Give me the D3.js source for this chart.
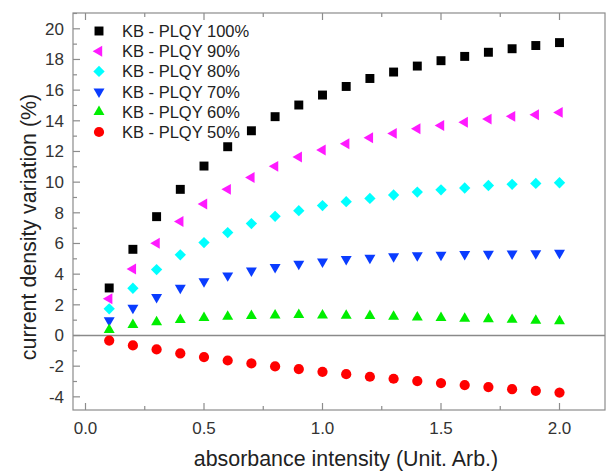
<!DOCTYPE html>
<html>
<head>
<meta charset="utf-8">
<script src="https://cdn.jsdelivr.net/npm/d3@7"></script>
<style>
  html, body { margin: 0; padding: 0; background: #fff; overflow: hidden; }
  svg { display: block; font-family: "Liberation Sans", Arial, sans-serif; }
</style>
</head>
<body>
<div id="chart"></div>
<script>
// absorbance intensity values (x)
var xValues = [0.1, 0.2, 0.3, 0.4, 0.5, 0.6, 0.7, 0.8, 0.9, 1.0,
               1.1, 1.2, 1.3, 1.4, 1.5, 1.6, 1.7, 1.8, 1.9, 2.0];

var plqy100 = [3.1, 5.62, 7.75, 9.53, 11.05, 12.31, 13.35, 14.27, 15.03, 15.68,
               16.24, 16.76, 17.18, 17.57, 17.92, 18.2, 18.47, 18.7, 18.91, 19.1];
var plqy90  = [2.39, 4.34, 6.01, 7.43, 8.58, 9.53, 10.31, 11.03, 11.64, 12.1,
               12.5, 12.9, 13.18, 13.48, 13.7, 13.91, 14.11, 14.29, 14.4, 14.55];
var plqy80  = [1.74, 3.08, 4.3, 5.26, 6.06, 6.71, 7.3, 7.77, 8.14, 8.47,
               8.73, 8.94, 9.16, 9.35, 9.5, 9.62, 9.78, 9.86, 9.92, 9.96];
var plqy70  = [0.98, 1.8, 2.5, 3.1, 3.52, 3.91, 4.23, 4.45, 4.67, 4.82,
               4.97, 5.06, 5.15, 5.22, 5.26, 5.3, 5.32, 5.34, 5.36, 5.38];
var plqy60  = [0.37, 0.7, 0.87, 1.02, 1.15, 1.24, 1.28, 1.32, 1.35, 1.32,
               1.3, 1.28, 1.24, 1.18, 1.15, 1.11, 1.07, 1.03, 0.98, 0.94];
var plqy50  = [-0.33, -0.65, -0.91, -1.17, -1.41, -1.63, -1.82, -2.02, -2.19, -2.37,
               -2.52, -2.69, -2.82, -2.97, -3.1, -3.23, -3.36, -3.5, -3.61, -3.72];

var seriesNames = ['KB - PLQY 100%', 'KB - PLQY 90%', 'KB - PLQY 80%',
                   'KB - PLQY 70%', 'KB - PLQY 60%', 'KB - PLQY 50%'];

var xTickValues = [0, 0.5, 1.0, 1.5, 2.0];
var yTickValues = [-4, -2, 0, 2, 4, 6, 8, 10, 12, 14, 16, 18, 20];

var width = 608, height = 472;
var frame = { left: 73, right: 605, top: 13, bottom: 410 };

var svg = d3.select('#chart').append('svg')
  .attr('width', width)
  .attr('height', height);

var x = d3.scaleLinear().domain([0, 2]).range([85.5, 559.5]);
var y = d3.scaleLinear().domain([0, 20]).range([335.5, 28.8]);

var xMin = x.invert(frame.left), xMax = x.invert(frame.right);
var yMin = y.invert(frame.bottom), yMax = y.invert(frame.top);

var axisColor = '#8c8c8c';

// minor/major ticks, pointing inward
var xMinor = d3.range(0, xMax, 0.25);
var yMinor = d3.range(Math.ceil(yMin), yMax, 1);

var axes = svg.append('g').attr('stroke', axisColor).attr('stroke-width', 1.2);

// bottom + top x ticks
xMinor.forEach(function(v) {
  var major = Math.abs(v * 2 - Math.round(v * 2)) < 1e-6;
  var len = major ? 7 : 4;
  axes.append('line')
    .attr('x1', x(v)).attr('x2', x(v))
    .attr('y1', frame.bottom).attr('y2', frame.bottom - len);
  axes.append('line')
    .attr('x1', x(v)).attr('x2', x(v))
    .attr('y1', frame.top).attr('y2', frame.top + len);
});

// left y ticks
yMinor.forEach(function(v) {
  var major = v % 2 === 0;
  var len = major ? 7 : 4;
  axes.append('line')
    .attr('x1', frame.left).attr('x2', frame.left + len)
    .attr('y1', y(v)).attr('y2', y(v));
});

// frame
axes.append('rect')
  .attr('x', frame.left).attr('y', frame.top)
  .attr('width', frame.right - frame.left)
  .attr('height', frame.bottom - frame.top)
  .attr('fill', 'none');

// zero line
svg.append('line')
  .attr('x1', frame.left).attr('x2', frame.right)
  .attr('y1', y(0)).attr('y2', y(0))
  .attr('stroke', '#8a8a8a').attr('stroke-width', 1.3);

// tick labels
svg.append('g').selectAll('text')
  .data(xTickValues).enter()
  .append('text')
  .attr('x', function(d) { return x(d); })
  .attr('y', 434)
  .attr('text-anchor', 'middle')
  .attr('font-size', '17px')
  .attr('fill', '#333')
  .text(d3.format('.1f'));

svg.append('g').selectAll('text')
  .data(yTickValues).enter()
  .append('text')
  .attr('x', frame.left - 9)
  .attr('y', function(d) { return y(d); })
  .attr('dy', '0.35em')
  .attr('text-anchor', 'end')
  .attr('font-size', '17px')
  .attr('fill', '#333')
  .text(function(d) { return d; });

// axis titles
svg.append('text')
  .attr('x', 346)
  .attr('y', 466)
  .attr('text-anchor', 'middle')
  .attr('font-size', '21.4px')
  .attr('fill', '#222')
  .text('absorbance intensity (Unit. Arb.)');

svg.append('text')
  .attr('transform', 'translate(28,227) rotate(-90)')
  .attr('dy', '0.35em')
  .attr('text-anchor', 'middle')
  .attr('font-size', '21.4px')
  .attr('fill', '#222')
  .text('current density variation (%)');

// series styles
var series = [
  { name: seriesNames[0], values: plqy100, color: '#000000', type: d3.symbolSquare, size: 80, rotate: 0 },
  { name: seriesNames[1], values: plqy90,  color: '#ff1aff', type: d3.symbolTriangle, size: 52, rotate: -90 },
  { name: seriesNames[2], values: plqy80,  color: '#00ffff', type: d3.symbolSquare, size: 64, rotate: 45 },
  { name: seriesNames[3], values: plqy70,  color: '#0a3cff', type: d3.symbolTriangle, size: 52, rotate: 180 },
  { name: seriesNames[4], values: plqy60,  color: '#00ee00', type: d3.symbolTriangle, size: 52, rotate: 0 },
  { name: seriesNames[5], values: plqy50,  color: '#ff0000', type: d3.symbolCircle, size: 82, rotate: 0 }
];

var points = svg.append('g');
series.forEach(function(s) {
  var sym = d3.symbol().type(s.type).size(s.size);
  points.append('g').selectAll('path')
    .data(s.values).enter()
    .append('path')
    .attr('d', sym)
    .attr('fill', s.color)
    .attr('transform', function(d, i) {
      return 'translate(' + x(xValues[i]) + ',' + y(d) + ') rotate(' + s.rotate + ')';
    });
});

// legend
var legend = svg.append('g');
series.forEach(function(s, i) {
  var ly = 31 + i * 20.2;
  legend.append('path')
    .attr('d', d3.symbol().type(s.type).size(s.size))
    .attr('fill', s.color)
    .attr('transform', 'translate(99,' + ly + ') rotate(' + s.rotate + ')');
  legend.append('text')
    .attr('x', 122)
    .attr('y', ly)
    .attr('dy', '0.36em')
    .attr('font-size', '16.5px')
    .attr('fill', '#222')
    .text(s.name);
});
</script>
</body>
</html>
